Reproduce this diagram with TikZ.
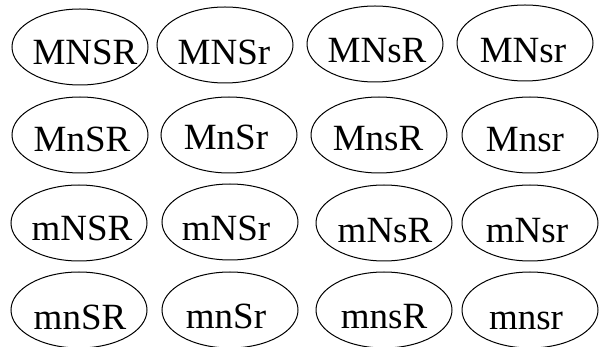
\documentclass[tikz,border=0pt]{standalone}
\usepackage{fontspec}
\setmainfont{Liberation Serif}
\usetikzlibrary{shapes.geometric}
\begin{document}
\begin{tikzpicture}[x=1pt,y=-1pt,
  ell/.style={draw,ellipse,line width=1pt,minimum width=136pt,minimum height=76pt,inner sep=0pt},
  lbl/.style={anchor=base,inner sep=0pt,font=\fontsize{37}{44}\selectfont}]
\useasboundingbox (0,0) rectangle (603,347);
% row 1
\node[ell] (e11) at (80,47) {};
\node[ell] (e12) at (225,45) {};
\node[ell] (e13) at (375,44) {};
\node[ell] (e14) at (525,43) {};
\node[lbl] (t11) at (85,65) {MNSR};
\node[lbl] (t12) at (224,65) {MNSr};
\node[lbl] (t13) at (377,63) {MNsR};
\node[lbl] (t14) at (523,63) {MNsr};
% row 2
\node[ell] (e21) at (80,135) {};
\node[ell] (e22) at (229,135) {};
\node[ell] (e23) at (379,135) {};
\node[ell] (e24) at (530,135) {};
\node[lbl] (t21) at (82,152) {MnSR};
\node[lbl] (t22) at (226,150) {MnSr};
\node[lbl] (t23) at (378,151) {MnsR};
\node[lbl] (t24) at (525,152) {Mnsr};
% row 3
\node[ell] (e31) at (79,223) {};
\node[ell] (e32) at (230,222) {};
\node[ell] (e33) at (384,223) {};
\node[ell] (e34) at (530,223) {};
\node[lbl] (t31) at (82,241) {mNSR};
\node[lbl] (t32) at (226,241) {mNSr};
\node[lbl] (t33) at (385,243) {mNsR};
\node[lbl] (t34) at (527,243) {mNsr};
% row 4
\node[ell] (e41) at (79,310) {};
\node[ell] (e42) at (230,310) {};
\node[ell] (e43) at (384,310) {};
\node[ell] (e44) at (530,310) {};
\node[lbl] (t41) at (80,330) {mnSR};
\node[lbl] (t42) at (226,329) {mnSr};
\node[lbl] (t43) at (384,329) {mnsR};
\node[lbl] (t44) at (526,330) {mnsr};
\end{tikzpicture}
\end{document}
